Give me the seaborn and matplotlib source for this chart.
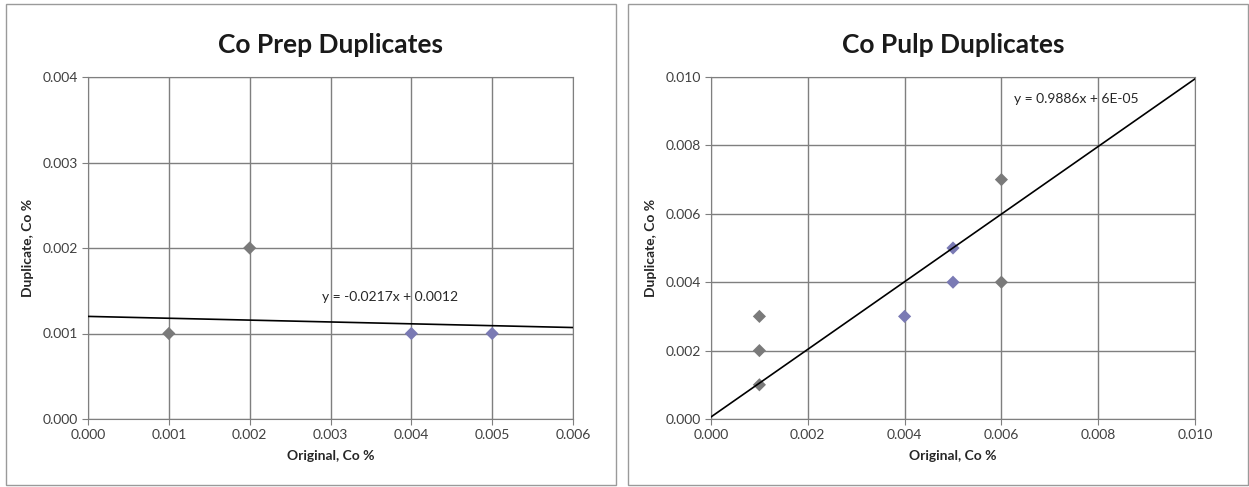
import pandas as pd
import seaborn as sns
import matplotlib.pyplot as plt
from matplotlib.patches import Rectangle

# Co prep duplicates
prep_orig = [0.001, 0.002, 0.004, 0.005]
prep_dup = [0.001, 0.002, 0.001, 0.001]
prep_group = ["a", "a", "b", "b"]
prep_slope, prep_icept = -0.0217, 0.0012

# Co pulp duplicates
pulp_orig = [0.001, 0.001, 0.001, 0.004, 0.005, 0.005, 0.006, 0.006]
pulp_dup = [0.003, 0.002, 0.001, 0.003, 0.005, 0.004, 0.007, 0.004]
pulp_group = ["a", "a", "a", "b", "b", "b", "a", "a"]
pulp_slope, pulp_icept = 0.9886, 0.00006

palette = {"a": "#7a7a7a", "b": "#7a7ab4"}

sns.set_style("white")
plt.rcParams['font.family'] = ['Lato', 'DejaVu Sans']

fig = plt.figure(figsize=(12.49, 4.87), dpi=100)

# panel frames
for x0, w in [(6 / 1249, 610 / 1249), (628 / 1249, 620 / 1249)]:
    fig.patches.append(Rectangle((x0, 2 / 487), w, 481 / 487, transform=fig.transFigure,
                                 fill=False, edgecolor="#9a9a9a", lw=1))


def draw_panel(rect, orig, dup, group, slope, icept, xmax, ymax, title, eq, eq_xy):
    ax = fig.add_axes(rect)
    df = pd.DataFrame({"orig": orig, "dup": dup, "group": group})
    sns.scatterplot(data=df, x="orig", y="dup", hue="group", palette=palette, marker="D",
                    s=45, edgecolor="none", legend=False, ax=ax, zorder=3)
    ax.plot([0, xmax], [icept, slope * xmax + icept], color="black", lw=1.2, zorder=4)
    ax.set_xlim(0, xmax)
    ax.set_ylim(0, ymax)
    step_x = 0.001 if xmax < 0.008 else 0.002
    step_y = 0.001 if ymax < 0.008 else 0.002
    ax.set_xticks([i * step_x for i in range(int(round(xmax / step_x)) + 1)])
    ax.set_yticks([i * step_y for i in range(int(round(ymax / step_y)) + 1)])
    ax.xaxis.set_major_formatter(plt.FormatStrFormatter("%.3f"))
    ax.yaxis.set_major_formatter(plt.FormatStrFormatter("%.3f"))
    ax.grid(True, color="#7f7f7f", lw=1)
    for sp in ax.spines.values():
        sp.set_color("#7f7f7f")
    ax.tick_params(axis="both", direction="out", length=4, color="#7f7f7f",
                   labelsize=10, labelcolor="#404040", left=True, bottom=True)
    ax.set_xlabel("Original, Co %", fontsize=10, fontweight="bold", color="#262626", labelpad=6)
    ax.set_ylabel("Duplicate, Co %", fontsize=10, fontweight="bold", color="#262626", labelpad=6)
    ax.set_title(title, fontsize=19, fontweight="bold", color="#1a1a1a", pad=17)
    ax.text(eq_xy[0], eq_xy[1], eq, fontsize=10, color="#262626", va="center", zorder=5)
    return ax


draw_panel([88 / 1249, 1 - 419 / 487, 485 / 1249, 342 / 487],
           prep_orig, prep_dup, prep_group, prep_slope, prep_icept, 0.006, 0.004,
           "Co Prep Duplicates", "y = -0.0217x + 0.0012", (0.0029, 0.00143))

draw_panel([711 / 1249, 1 - 419 / 487, 484 / 1249, 342 / 487],
           pulp_orig, pulp_dup, pulp_group, pulp_slope, pulp_icept, 0.010, 0.010,
           "Co Pulp Duplicates", "y = 0.9886x + 6E-05", (0.00627, 0.00936))

fig.savefig("out.png", dpi=100)
